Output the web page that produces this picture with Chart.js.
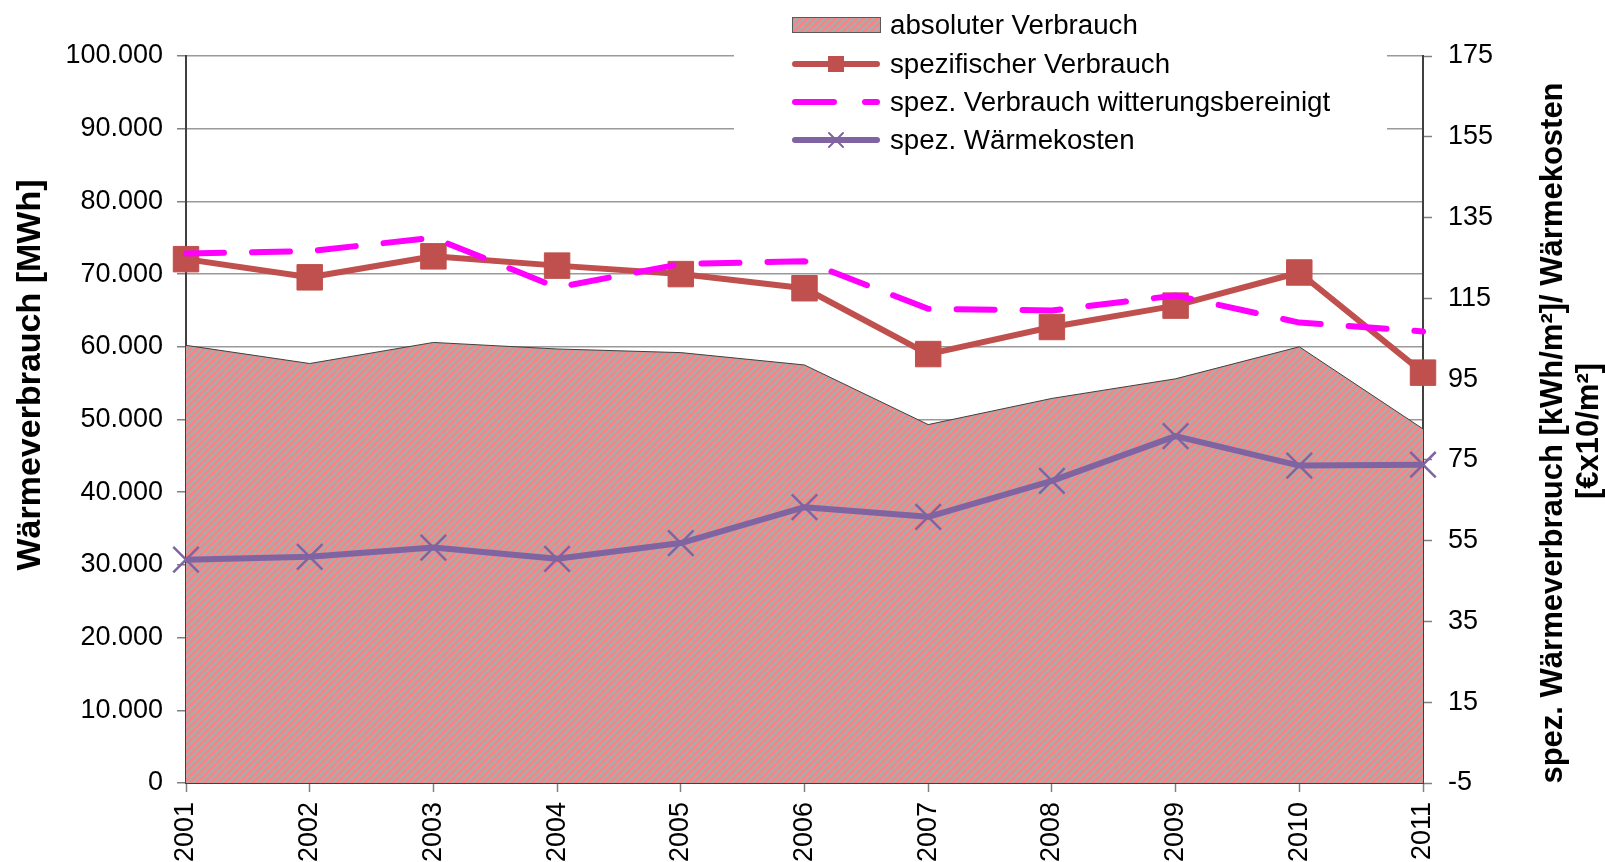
<!DOCTYPE html>
<html>
<head>
<meta charset="utf-8">
<style>
  html, body { margin: 0; padding: 0; background: #ffffff; }
  #wrap { width: 1605px; height: 862px; position: relative; }
</style>
<script src="https://cdn.jsdelivr.net/npm/chart.js@4/dist/chart.umd.min.js"></script>
</head>
<body>
<div id="wrap"><canvas id="c"></canvas></div>
<script>
// ---- data ----
const years = ['2001','2002','2003','2004','2005','2006','2007','2008','2009','2010','2011'];
const absoluterVerbrauch = [60200, 57700, 60600, 59700, 59200, 57500, 49300, 52900, 55600, 60000, 48700];
const spezifischerVerbrauch = [124.7, 120.2, 125.4, 123.1, 121.0, 117.5, 101.2, 107.9, 113.2, 121.4, 96.6];
const spezWitterungsbereinigt = [126.1, 126.7, 130.0, 117.7, 123.5, 124.2, 112.4, 112.0, 115.7, 109.0, 106.8];
const spezWaermekosten = [50.3, 51.0, 53.3, 50.5, 54.4, 63.3, 60.9, 69.8, 80.9, 73.6, 73.8];
const leftTicks = [0, 10000, 20000, 30000, 40000, 50000, 60000, 70000, 80000, 90000, 100000];
const rightTicks = [-5, 15, 35, 55, 75, 95, 115, 135, 155, 175];
const seriesNames = ['absoluter Verbrauch', 'spezifischer Verbrauch', 'spez. Verbrauch witterungsbereinigt', 'spez. Wärmekosten'];
const leftTitle = 'Wärmeverbrauch [MWh]';
const rightTitle = ['spez. Wärmeverbrauch [kWh/m²]/ Wärmekosten', '[€x10/m²]'];

// ---- styles ----
const FONT = '"Liberation Sans", Arial, sans-serif';
const RED = '#C0504D', MAGENTA = '#FF00FF', PURPLE = '#8064A2';

function makeHatch() {
  const s = 7;
  const c = document.createElement('canvas');
  c.width = s; c.height = s;
  const g = c.getContext('2d');
  g.fillStyle = '#ABABAB';
  g.fillRect(0, 0, s, s);
  g.strokeStyle = '#FF8080';
  g.lineWidth = 2.6;
  for (let k = -1; k <= 1; k++) {
    g.beginPath();
    g.moveTo(k * s, s);
    g.lineTo(k * s + s, 0);
    g.stroke();
  }
  return g.createPattern(c, 'repeat');
}
const hatch = makeHatch();

function fmtDe(v) {
  return String(v).replace(/\B(?=(\d{3})+(?!\d))/g, '.');
}

const overlay = {
  id: 'overlay',
  afterDraw(chart) {
    const ctx = chart.ctx;
    ctx.save();
    // legend box
    ctx.fillStyle = '#ffffff';
    ctx.fillRect(734, 0, 653, 158);
    const x0 = 792, x1 = 880, xm = 836, tx = 890;
    const rows = [25, 64, 102, 140];
    // area symbol
    ctx.fillStyle = hatch;
    ctx.fillRect(x0, rows[0] - 8, x1 - x0, 15);
    ctx.strokeStyle = '#595959';
    ctx.lineWidth = 1;
    ctx.strokeRect(x0 + 0.5, rows[0] - 7.5, x1 - x0, 15);
    // red line + square
    ctx.lineCap = 'round';
    ctx.strokeStyle = RED; ctx.lineWidth = 6;
    ctx.beginPath(); ctx.moveTo(x0 + 3, rows[1]); ctx.lineTo(x1 - 3, rows[1]); ctx.stroke();
    ctx.fillStyle = RED;
    ctx.fillRect(xm - 8, rows[1] - 8, 16, 16);
    // magenta dashes
    ctx.strokeStyle = MAGENTA; ctx.lineWidth = 6;
    ctx.beginPath(); ctx.moveTo(x0 + 3, rows[2]); ctx.lineTo(834, rows[2]); ctx.stroke();
    ctx.beginPath(); ctx.moveTo(865, rows[2]); ctx.lineTo(x1 - 3, rows[2]); ctx.stroke();
    // purple line + x
    ctx.strokeStyle = PURPLE; ctx.lineWidth = 6;
    ctx.beginPath(); ctx.moveTo(x0 + 3, rows[3]); ctx.lineTo(x1 - 3, rows[3]); ctx.stroke();
    ctx.lineWidth = 2;
    ctx.beginPath();
    ctx.moveTo(xm - 7, rows[3] - 7); ctx.lineTo(xm + 7, rows[3] + 7);
    ctx.moveTo(xm + 7, rows[3] - 7); ctx.lineTo(xm - 7, rows[3] + 7);
    ctx.stroke();
    // legend text
    ctx.fillStyle = '#000000';
    ctx.font = '27.7px ' + FONT;
    ctx.textAlign = 'left';
    ctx.textBaseline = 'middle';
    seriesNames.forEach((n, i) => ctx.fillText(n, tx, rows[i] + 1));

    // axis titles
    ctx.font = 'bold 34px ' + FONT;
    ctx.textAlign = 'center';
    ctx.textBaseline = 'middle';
    ctx.save();
    ctx.translate(31, 375);
    ctx.rotate(-Math.PI / 2);
    ctx.fillText(leftTitle, 0, 0);
    ctx.restore();
    ctx.font = 'bold 31px ' + FONT;
    ctx.save();
    ctx.translate(1553, 433);
    ctx.rotate(-Math.PI / 2);
    ctx.fillText(rightTitle[0], 0, 0);
    ctx.restore();
    ctx.save();
    ctx.translate(1589, 431);
    ctx.rotate(-Math.PI / 2);
    ctx.fillText(rightTitle[1], 0, 0);
    ctx.restore();
    ctx.restore();
  }
};

const tickFont = { family: FONT, size: 27 };

new Chart(document.getElementById('c'), {
  type: 'line',
  data: {
    labels: years,
    datasets: [
      {
        label: seriesNames[3],
        data: spezWaermekosten,
        yAxisID: 'y1',
        borderColor: PURPLE,
        borderWidth: 6,
        borderJoinStyle: 'round',
        pointStyle: 'crossRot',
        pointRadius: 18,
        pointBorderWidth: 2.5,
        pointBorderColor: PURPLE,
        pointBackgroundColor: PURPLE,
        fill: false,
        tension: 0,
        order: 0
      },
      {
        label: seriesNames[2],
        data: spezWitterungsbereinigt,
        yAxisID: 'y1',
        borderColor: MAGENTA,
        borderWidth: 6,
        borderDash: [38, 28],
        borderCapStyle: 'round',
        pointRadius: 0,
        fill: false,
        tension: 0,
        order: 1
      },
      {
        label: seriesNames[1],
        data: spezifischerVerbrauch,
        yAxisID: 'y1',
        borderColor: RED,
        borderWidth: 6,
        borderJoinStyle: 'round',
        pointStyle: 'rect',
        pointRadius: 18,
        pointBorderWidth: 1,
        pointBorderColor: RED,
        pointBackgroundColor: RED,
        fill: false,
        tension: 0,
        order: 2
      },
      {
        label: seriesNames[0],
        data: absoluterVerbrauch,
        yAxisID: 'y',
        borderColor: '#404040',
        borderWidth: 1,
        backgroundColor: hatch,
        pointRadius: 0,
        fill: 'origin',
        tension: 0,
        order: 3
      }
    ]
  },
  options: {
    responsive: true,
    maintainAspectRatio: false,
    animation: false,
    events: [],
    layout: { padding: { top: 56, left: 0, right: 0, bottom: 0 } },
    plugins: { legend: { display: false }, tooltip: { enabled: false }, title: { display: false } },
    scales: {
      x: {
        type: 'category',
        offset: false,
        grid: { display: true, drawOnChartArea: false, drawTicks: true, tickLength: 9, tickColor: '#808080', tickWidth: 1.5 },
        border: { color: '#404040', width: 2 },
        ticks: { maxRotation: 90, minRotation: 90, autoSkip: false, padding: 10, color: '#000000', font: tickFont },
        afterFit: s => { s.height = 79; }
      },
      y: {
        type: 'linear',
        position: 'left',
        min: 0,
        max: 100000,
        afterBuildTicks: s => { s.ticks = leftTicks.map(v => ({ value: v })); },
        grid: { color: '#9A9A9A', lineWidth: 1.5, drawTicks: true, tickLength: 9, tickColor: '#808080', tickWidth: 1.5 },
        border: { color: '#404040', width: 2 },
        ticks: { padding: 14, color: '#000000', font: tickFont, callback: v => fmtDe(v) },
        afterFit: s => { s.width = 186; }
      },
      y1: {
        type: 'linear',
        position: 'right',
        min: -5,
        max: 175,
        afterBuildTicks: s => { s.ticks = rightTicks.map(v => ({ value: v })); },
        grid: { drawOnChartArea: false, drawTicks: true, tickLength: 9, tickColor: '#808080', tickWidth: 1.5 },
        border: { color: '#404040', width: 2 },
        ticks: { padding: 16, color: '#000000', font: tickFont },
        afterFit: s => { s.width = 182; }
      }
    }
  },
  plugins: [overlay]
});
</script>
</body>
</html>
